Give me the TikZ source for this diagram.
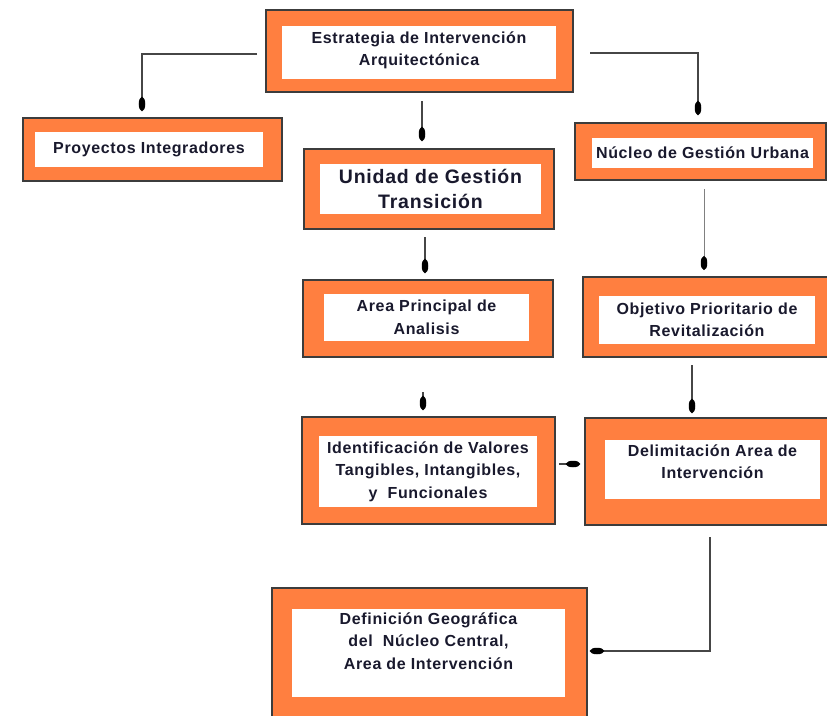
\documentclass[tikz,border=0pt]{standalone}
\usepackage{fontspec}
\setmainfont{Liberation Sans}[LetterSpace=4]
\usepackage{xcolor}
\usepackage{tikz}
\usetikzlibrary{positioning,calc,arrows.meta}

\definecolor{boxorange}{RGB}{255,127,64}
\definecolor{boxedge}{RGB}{60,60,60}
\definecolor{boxtext}{RGB}{25,25,45}
\definecolor{linkgray}{RGB}{70,70,70}

\begin{document}
\begin{tikzpicture}[x=1pt, y=-1pt,
    obox/.style={draw=boxedge, line width=1.3pt, fill=boxorange, inner sep=0pt, outer sep=0pt},
    ibox/.style={fill=white, inner sep=0pt, outer sep=0pt, align=center, text=boxtext,
        font=\fontsize{16}{22.5}\selectfont\bfseries},
    link/.style={draw=linkgray, line width=1.4pt, -{Ellipse[length=14pt,width=6.5pt,color=black]}}]
    \useasboundingbox (0,0) rectangle (827,715);

    % Top box
    \node[obox, minimum width=307pt, minimum height=82pt] (strat) at (419.5,51) {};
    \node[ibox, minimum width=274pt, minimum height=53pt, text depth=8pt] (stratin) at (419,52.5)
        {Estrategia de Intervención\\Arquitectónica};

    % Second row
    \node[obox, minimum width=259pt, minimum height=63pt] (proy) at (152.5,149.5) {};
    \node[ibox, minimum width=228pt, minimum height=35pt] (proyin) at (149,149.5)
        {Proyectos Integradores};

    \node[obox, minimum width=250pt, minimum height=80pt] (unid) at (429,189) {};
    \node[ibox, minimum width=221pt, minimum height=50pt,
        font=\fontsize{19.5}{25}\selectfont\bfseries] (unidin) at (430.5,189)
        {Unidad de Gestión\\Transición};

    \node[obox, minimum width=251pt, minimum height=57pt] (nucl) at (700.5,151.5) {};
    \node[ibox, minimum width=221pt, minimum height=30pt] (nuclin) at (702.5,153)
        {Núcleo de Gestión Urbana};

    % Third row
    \node[obox, minimum width=250pt, minimum height=77pt] (area) at (428,318.5) {};
    \node[ibox, minimum width=205pt, minimum height=47pt] (areain) at (426.5,317.5)
        {Area Principal de\\Analisis};

    \node[obox, minimum width=245pt, minimum height=80pt] (obj) at (705.5,317) {};
    \node[ibox, minimum width=216pt, minimum height=48pt] (objin) at (707,320)
        {Objetivo Prioritario de\\Revitalización};

    % Fourth row
    \node[obox, minimum width=253pt, minimum height=107pt] (ident) at (428.5,470.5) {};
    \node[ibox, minimum width=218pt, minimum height=71pt] (identin) at (428,471.5)
        {Identificación de Valores\\Tangibles, Intangibles,\\y~ Funcionales};

    \node[obox, minimum width=243pt, minimum height=107pt] (delim) at (706.5,471.5) {};
    \node[ibox, minimum width=215pt, minimum height=59pt, text depth=16pt] (delimin) at (712.5,469.5)
        {Delimitación Area de\\Intervención};

    % Bottom box
    \node[obox, minimum width=315pt, minimum height=134pt] (defin) at (429.5,655) {};
    \node[ibox, minimum width=273pt, minimum height=88pt, text depth=24pt] (definin) at (428.5,653)
        {Definición Geográfica\\del~ Núcleo Central,\\Area de Intervención};

    % Connectors
    \draw[link, shorten <=9pt, shorten >=7pt] ([yshift=-3pt]strat.west) -| ([xshift=-10.5pt]proy.north);
    \draw[link, shorten <=9pt, shorten >=8pt] ([xshift=2.5pt]strat.south) -- ([xshift=2.5pt]strat.south |- unid.north);
    \draw[link, shorten <=17pt, shorten >=8pt] ([yshift=-2pt]strat.east) -| ([xshift=-2.5pt]nucl.north);
    \draw[link, shorten <=8pt, shorten >=7pt] ([xshift=-4pt]unid.south) -- ([xshift=-4pt]unid.south |- area.north);
    \draw[link, shorten <=35pt, shorten >=7pt] ([xshift=-5pt]area.south) -- ([xshift=-5pt]area.south |- ident.north);
    \draw[link, line width=1pt, draw=gray, shorten <=9pt, shorten >=7pt] ([xshift=3.5pt]nucl.south) -- ([xshift=3.5pt]nucl.south |- obj.north);
    \draw[link, shorten <=8pt, shorten >=5pt] ([xshift=-13.5pt]obj.south) -- ([xshift=-13.5pt]obj.south |- delim.north);
    \draw[link, shorten <=4pt, shorten >=5pt] ([yshift=6.5pt]ident.east) -- ([yshift=6.5pt]ident.east -| delim.west);
    \draw[link, shorten <=12pt, shorten >=3pt] ([xshift=3.5pt]delim.south) |- ([yshift=4pt]defin.east);
\end{tikzpicture}
\end{document}
